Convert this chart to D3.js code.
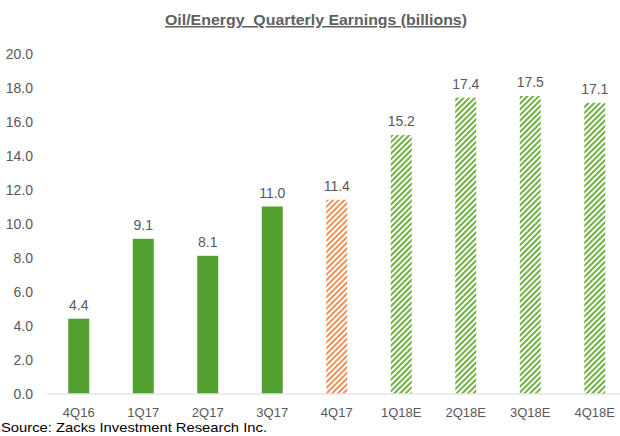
<!DOCTYPE html>
<html>
<head>
<meta charset="utf-8">
<script src="https://cdn.jsdelivr.net/npm/d3@7"></script>
<style>
body{margin:0;background:#fff;}
svg{display:block;}
text{font-family:"Liberation Sans",Arial,sans-serif;}
</style>
</head>
<body>
<svg id="chart" width="620" height="436"></svg>
<script>
const categories = ["4Q16","1Q17","2Q17","3Q17","4Q17","1Q18E","2Q18E","3Q18E","4Q18E"];
const values = [4.4, 9.1, 8.1, 11.0, 11.4, 15.2, 17.4, 17.5, 17.1];
const barKinds = ["actual","actual","actual","actual","current","estimate","estimate","estimate","estimate"];
const yTicks = [0,2,4,6,8,10,12,14,16,18,20];
const titleText = "Oil/Energy  Quarterly Earnings (billions)";
const sourceText = "Source: Zacks Investment Research Inc.";

const svg = d3.select("#chart");
const defs = svg.append("defs");

function hatch(id, color){
  const p = defs.append("pattern").attr("id", id)
    .attr("patternUnits","userSpaceOnUse").attr("width",4).attr("height",4)
    .attr("patternTransform","rotate(45)");
  p.append("rect").attr("width",4).attr("height",4).attr("fill","#fff");
  p.append("rect").attr("x",0).attr("width",2).attr("height",4).attr("fill",color);
}
hatch("hatchOrange", "#E9935A");
hatch("hatchGreen", "#6FB043");

const fills = {actual:"#52A030", current:"url(#hatchOrange)", estimate:"url(#hatchGreen)"};

const x = d3.scaleBand().domain(categories).range([46.5, 627]).paddingInner(0.675).paddingOuter(0.3375);
const y = d3.scaleLinear().domain([0,20]).range([393.5, 53.5]);

// title
svg.append("text").attr("x", 316).attr("y", 25).attr("text-anchor","middle")
  .attr("font-size", 15).attr("font-weight","bold").attr("fill","#606060")
  .attr("text-decoration","underline").style("white-space","pre")
  .attr("textLength",302).attr("lengthAdjust","spacingAndGlyphs")
  .text(titleText);

// y axis labels
const yAxis = d3.axisLeft(y).tickValues(yTicks).tickFormat(d3.format(".1f")).tickSize(0).tickPadding(0);
const ya = svg.append("g").attr("transform","translate(33,0)").call(yAxis);
ya.select(".domain").remove();
ya.selectAll("text").attr("font-size",14).attr("fill","#595959")
  .attr("font-family","'Liberation Sans',Arial,sans-serif").attr("dy","0.35em");

// bars
svg.append("g").selectAll("rect").data(values).join("rect")
  .attr("x",(d,i)=>x(categories[i]))
  .attr("width",x.bandwidth())
  .attr("y",d=>y(d))
  .attr("height",d=>y(0)-y(d))
  .attr("fill",(d,i)=>fills[barKinds[i]]);

// value labels
svg.append("g").selectAll("text").data(values).join("text")
  .attr("x",(d,i)=>x(categories[i])+x.bandwidth()/2)
  .attr("y",d=>y(d)-9)
  .attr("text-anchor","middle").attr("font-size",14).attr("fill","#595959")
  .text(d=>d3.format(".1f")(d));

// x axis
const xAxis = d3.axisBottom(x).tickSize(0).tickPadding(0);
const xa = svg.append("g").attr("transform",`translate(0,${y(0)})`).call(xAxis);
xa.select(".domain").attr("stroke","#D9D9D9").attr("stroke-width",1);
xa.selectAll("text").attr("font-size",13).attr("fill","#595959")
  .attr("font-family","'Liberation Sans',Arial,sans-serif").attr("y",23).attr("dy",0);

// source
svg.append("text").attr("x",1).attr("y",432).attr("font-size",13).attr("fill","#000")
  .attr("textLength",266).attr("lengthAdjust","spacingAndGlyphs").text(sourceText);
</script>
</body>
</html>
